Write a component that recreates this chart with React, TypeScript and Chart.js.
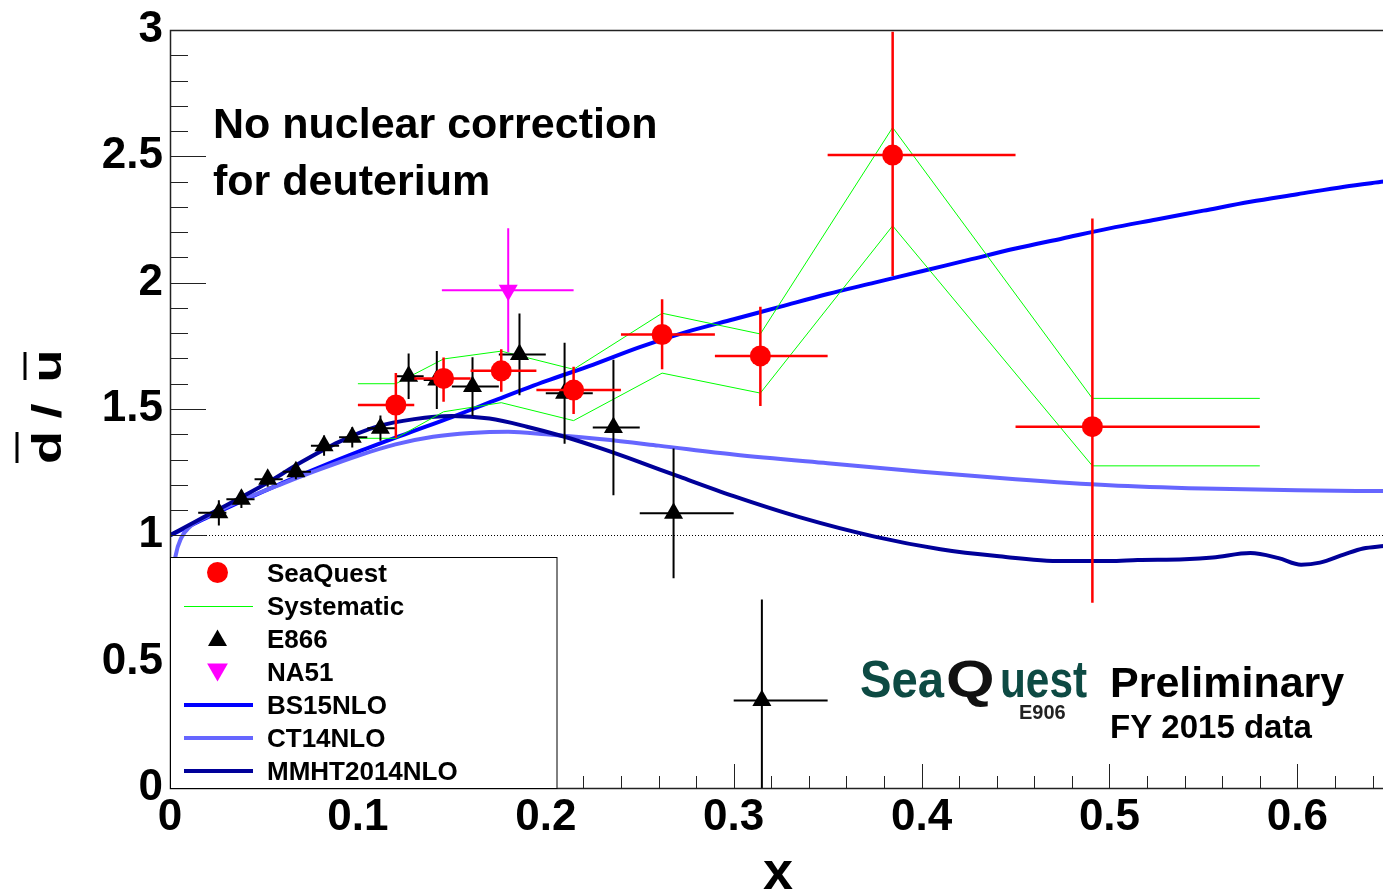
import React, { useEffect, useRef } from "react";
import { Chart, registerables } from "chart.js";

Chart.register(...registerables);

const FONT = "'Liberation Sans', Helvetica, Arial, sans-serif";

// ---------- axes ----------
const xTickValues = [0, 0.1, 0.2, 0.3, 0.4, 0.5, 0.6];
const xTickLabels = ["0", "0.1", "0.2", "0.3", "0.4", "0.5", "0.6"];
const yTickValues = [0, 0.5, 1, 1.5, 2, 2.5, 3];
const yTickLabels = ["0", "0.5", "1", "1.5", "2", "2.5", "3"];
const X_MIN = 0;
const X_MAX = 0.6461;
const Y_MIN = 0;
const Y_MAX = 3;
const X_MINOR_STEP = 0.02;
const Y_MINOR_STEP = 0.1;

// ---------- series names ----------
const NAME_SEAQUEST = "SeaQuest";
const NAME_SYS = "Systematic";
const NAME_E866 = "E866";
const NAME_NA51 = "NA51";
const NAME_BS15 = "BS15NLO";
const NAME_CT14 = "CT14NLO";
const NAME_MMHT = "MMHT2014NLO";

// ---------- SeaQuest ----------
const seaquestX = [0.1202, 0.1456, 0.1763, 0.2148, 0.2619, 0.3142, 0.3846, 0.4909];
const seaquestY = [1.516, 1.621, 1.651, 1.575, 1.795, 1.71, 2.505, 1.43];
const seaquestXLow = [0.1, 0.13, 0.16, 0.195, 0.24, 0.29, 0.35, 0.45];
const seaquestXHigh = [0.13, 0.16, 0.195, 0.24, 0.29, 0.35, 0.45, 0.58];
const seaquestYLow = [1.385, 1.529, 1.568, 1.48, 1.657, 1.512, 2.026, 0.733];
const seaquestYHigh = [1.642, 1.704, 1.736, 1.667, 1.934, 1.905, 2.993, 2.254];

// ---------- Systematic band ----------
const sysX = [0.1, 0.1202, 0.1456, 0.1763, 0.2148, 0.2619, 0.3142, 0.3846, 0.4909, 0.58];
const sysUpper = [1.6, 1.6, 1.698, 1.729, 1.657, 1.879, 1.797, 2.614, 1.542, 1.542];
const sysLower = [1.384, 1.384, 1.489, 1.525, 1.454, 1.642, 1.563, 2.225, 1.275, 1.275];

// ---------- E866 ----------
const e866X = [0.026, 0.038, 0.052, 0.067, 0.082, 0.097, 0.112, 0.127, 0.142, 0.161, 0.186, 0.21, 0.236, 0.268, 0.315];
const e866Y = [1.089, 1.143, 1.222, 1.252, 1.355, 1.388, 1.424, 1.63, 1.615, 1.589, 1.716, 1.562, 1.427, 1.087, 0.346];
const e866YErr = [0.05, 0.035, 0.03, 0.03, 0.04, 0.04, 0.05, 0.09, 0.115, 0.116, 0.162, 0.2, 0.268, 0.257, 0.4];
const e866XLow = [0.015, 0.03, 0.045, 0.06, 0.075, 0.09, 0.105, 0.12, 0.135, 0.15, 0.175, 0.2, 0.225, 0.25, 0.3];
const e866XHigh = [0.03, 0.045, 0.06, 0.075, 0.09, 0.105, 0.12, 0.135, 0.15, 0.175, 0.2, 0.225, 0.25, 0.3, 0.35];

// ---------- NA51 ----------
const na51X = [0.18];
const na51Y = [1.97];
const na51YErr = [0.245];
const na51XLow = [0.1447];
const na51XHigh = [0.2148];

// ---------- theory curves ----------
const bs15X = [0, 0.01, 0.025, 0.05, 0.075, 0.1, 0.125, 0.15, 0.175, 0.2, 0.225, 0.25, 0.275, 0.3, 0.325, 0.35, 0.375, 0.4, 0.425, 0.45, 0.475, 0.5, 0.525, 0.55, 0.575, 0.6, 0.625, 0.6461];
const bs15Y = [1.0, 1.035, 1.09, 1.175, 1.255, 1.33, 1.4, 1.468, 1.54, 1.61, 1.675, 1.745, 1.805, 1.855, 1.905, 1.955, 2.0, 2.045, 2.09, 2.135, 2.175, 2.215, 2.25, 2.285, 2.32, 2.35, 2.38, 2.4];

const ct14X = [0, 0.001, 0.003, 0.006, 0.01, 0.02, 0.04, 0.06, 0.08, 0.1, 0.12, 0.14, 0.16, 0.18, 0.2, 0.23, 0.26, 0.3, 0.35, 0.4, 0.45, 0.5, 0.55, 0.6, 0.6461];
const ct14Y = [0.6, 0.8, 0.92, 0.99, 1.03, 1.075, 1.145, 1.205, 1.262, 1.315, 1.36, 1.39, 1.405, 1.41, 1.4, 1.38, 1.355, 1.32, 1.285, 1.252, 1.222, 1.198, 1.185, 1.178, 1.175];

const mmhtX = [0, 0.02, 0.05, 0.07, 0.09, 0.11, 0.13, 0.15, 0.17, 0.19, 0.21, 0.229, 0.25, 0.27, 0.3, 0.335, 0.375, 0.41, 0.44, 0.475, 0.5, 0.515, 0.54, 0.555, 0.575, 0.59, 0.602, 0.612, 0.625, 0.635, 0.6461];
const mmhtY = [1.0, 1.08, 1.2, 1.29, 1.37, 1.43, 1.46, 1.472, 1.462, 1.43, 1.39, 1.345, 1.29, 1.235, 1.155, 1.072, 0.995, 0.945, 0.918, 0.898, 0.898, 0.902, 0.905, 0.912, 0.93, 0.91, 0.884, 0.892, 0.925, 0.948, 0.958];

// ---------- colours ----------
const RED = "#ff0000";
const GREEN = "#00ff00";
const BLACK = "#000000";
const MAGENTA = "#ff00ff";
const BS15_COLOR = "#0000ff";
const CT14_COLOR = "#6666ff";
const MMHT_COLOR = "#000099";
const LOGO_TEAL = "#0d4a43";

const pts = (xs: number[], ys: number[]) => xs.map((x, i) => ({ x, y: ys[i] }));

type ErrorBars = {
  xLow: number[];
  xHigh: number[];
  yLow: number[];
  yHigh: number[];
  color: string;
  width: number;
};

const legendEntries = [
  { label: NAME_SEAQUEST, kind: "circle", color: RED, width: 0 },
  { label: NAME_SYS, kind: "line", color: GREEN, width: 1 },
  { label: NAME_E866, kind: "tri", color: BLACK, width: 0 },
  { label: NAME_NA51, kind: "triDown", color: MAGENTA, width: 0 },
  { label: NAME_BS15, kind: "line", color: BS15_COLOR, width: 4 },
  { label: NAME_CT14, kind: "line", color: CT14_COLOR, width: 4 },
  { label: NAME_MMHT, kind: "line", color: MMHT_COLOR, width: 4 },
];

function drawTriangle(ctx: CanvasRenderingContext2D, x: number, y: number, r: number, down: boolean) {
  const s = down ? -1 : 1;
  ctx.beginPath();
  ctx.moveTo(x, y - s * r);
  ctx.lineTo(x + 0.866 * r, y + s * r * 0.5);
  ctx.lineTo(x - 0.866 * r, y + s * r * 0.5);
  ctx.closePath();
  ctx.fill();
}

const rootPlugin = {
  id: "rootDecor",
  beforeDatasetsDraw(chart: any) {
    const { ctx, chartArea, scales } = chart;
    const py = Math.round(scales.y.getPixelForValue(1)) + 0.5;
    ctx.save();
    ctx.strokeStyle = "#000";
    ctx.lineWidth = 1;
    ctx.setLineDash([1, 2]);
    ctx.beginPath();
    ctx.moveTo(chartArea.left, py);
    ctx.lineTo(chartArea.right, py);
    ctx.stroke();
    ctx.restore();
  },
  beforeDatasetDraw(chart: any, args: any) {
    const ds = chart.data.datasets[args.index];
    const eb: ErrorBars | undefined = ds.errorBars;
    if (!eb) return;
    const { ctx, chartArea, scales } = chart;
    const xs = scales.x;
    const ys = scales.y;
    ctx.save();
    ctx.beginPath();
    ctx.rect(chartArea.left, chartArea.top, chartArea.right - chartArea.left, chartArea.bottom - chartArea.top);
    ctx.clip();
    ctx.strokeStyle = eb.color;
    ctx.lineWidth = eb.width;
    ds.data.forEach((p: any, i: number) => {
      const px = xs.getPixelForValue(p.x);
      const py = ys.getPixelForValue(p.y);
      ctx.beginPath();
      ctx.moveTo(xs.getPixelForValue(eb.xLow[i]), py);
      ctx.lineTo(xs.getPixelForValue(eb.xHigh[i]), py);
      ctx.moveTo(px, ys.getPixelForValue(eb.yLow[i]));
      ctx.lineTo(px, ys.getPixelForValue(eb.yHigh[i]));
      ctx.stroke();
    });
    ctx.restore();
  },
  afterDatasetsDraw(chart: any) {
    const { ctx, chartArea, scales } = chart;
    const { left, right, top, bottom } = chartArea;
    const xs = scales.x;
    const ys = scales.y;
    ctx.save();
    ctx.strokeStyle = "#222";
    ctx.lineWidth = 1;
    ctx.beginPath();
    const nY = Math.round((Y_MAX - Y_MIN) / Y_MINOR_STEP);
    for (let k = 1; k < nY; k++) {
      const v = Y_MIN + k * Y_MINOR_STEP;
      const py = Math.round(ys.getPixelForValue(v)) + 0.5;
      const major = k % 5 === 0;
      ctx.moveTo(left, py);
      ctx.lineTo(left + (major ? 36 : 18), py);
    }
    const nX = Math.floor((X_MAX - X_MIN) / X_MINOR_STEP + 1e-6);
    for (let k = 1; k <= nX; k++) {
      const v = X_MIN + k * X_MINOR_STEP;
      const px = Math.round(xs.getPixelForValue(v)) + 0.5;
      const major = k % 5 === 0;
      ctx.moveTo(px, bottom);
      ctx.lineTo(px, bottom - (major ? 24 : 12));
    }
    ctx.stroke();
    ctx.strokeStyle = "#222";
    ctx.lineWidth = 1.5;
    ctx.beginPath();
    ctx.moveTo(right, top + 0.5);
    ctx.lineTo(left + 0.5, top + 0.5);
    ctx.lineTo(left + 0.5, bottom + 0.5);
    ctx.lineTo(right, bottom + 0.5);
    ctx.stroke();
    ctx.restore();
  },
  afterDraw(chart: any) {
    const { ctx } = chart;
    ctx.save();
    // ----- legend -----
    const L = 170, T = 557, R = 557.5, B = 788;
    ctx.fillStyle = "#fff";
    ctx.fillRect(L, T, R - L, B - T);
    ctx.strokeStyle = "#000";
    ctx.lineWidth = 1;
    ctx.strokeRect(L + 0.5, T + 0.5, R - L - 1, B - T);
    legendEntries.forEach((e, i) => {
      const cy = 572.5 + i * 33;
      const cx = 217.5;
      ctx.fillStyle = e.color;
      ctx.strokeStyle = e.color;
      if (e.kind === "circle") {
        ctx.beginPath();
        ctx.arc(cx, cy, 10.5, 0, Math.PI * 2);
        ctx.fill();
      } else if (e.kind === "tri") {
        drawTriangle(ctx, cx, cy + 2, 11, false);
      } else if (e.kind === "triDown") {
        drawTriangle(ctx, cx, cy - 2, 12, true);
      } else {
        ctx.lineWidth = e.width;
        const ly = e.width % 2 === 1 ? Math.round(cy) + 0.5 : Math.round(cy);
        ctx.beginPath();
        ctx.moveTo(184, ly);
        ctx.lineTo(253, ly);
        ctx.stroke();
      }
      ctx.fillStyle = "#000";
      ctx.font = `bold 26px ${FONT}`;
      ctx.textAlign = "left";
      ctx.textBaseline = "alphabetic";
      ctx.fillText(e.label, 267, cy + 9.3);
    });

    // ----- annotations -----
    ctx.fillStyle = "#000";
    ctx.textAlign = "left";
    ctx.textBaseline = "alphabetic";
    ctx.font = `bold 43px ${FONT}`;
    ctx.fillText("No nuclear correction", 213, 138);
    ctx.fillText("for deuterium", 213, 195);

    // x axis title
    ctx.textAlign = "center";
    ctx.font = `bold 54px ${FONT}`;
    ctx.fillText("x", 778, 889);

    // y axis title: d-bar / u-bar (rotated)
    const glyph = (ch: string, cy: number) => {
      ctx.save();
      ctx.translate(61, cy);
      ctx.rotate(-Math.PI / 2);
      ctx.scale(1.35, 1);
      ctx.font = `bold 40px ${FONT}`;
      ctx.textAlign = "center";
      ctx.textBaseline = "alphabetic";
      ctx.fillText(ch, 0, 0);
      ctx.restore();
    };
    glyph("d", 447.5);
    glyph("/", 411);
    glyph("u", 366);
    ctx.fillRect(15.5, 432, 3, 31);
    ctx.fillRect(23.5, 352, 3, 28);

    // SeaQuest logo
    ctx.textAlign = "left";
    ctx.font = `bold 52px ${FONT}`;
    ctx.fillStyle = LOGO_TEAL;
    ctx.fillText("Sea", 860, 697, 84);
    ctx.fillText("uest", 1000, 697, 87);
    ctx.save();
    ctx.translate(946, 697);
    ctx.scale(1.2, 1);
    ctx.fillStyle = "#111";
    ctx.fillText("Q", 0, 0);
    ctx.restore();
    ctx.font = `bold 20px ${FONT}`;
    ctx.fillStyle = "#222";
    ctx.fillText("E906", 1019, 719, 48);

    ctx.fillStyle = "#000";
    ctx.font = `bold 43px ${FONT}`;
    ctx.fillText("Preliminary", 1110, 697);
    ctx.font = `bold 33px ${FONT}`;
    ctx.fillText("FY 2015 data", 1110, 738);
    ctx.restore();
  },
};

const CANVAS_W = 1395;
const CANVAS_H = 894;

export default function App() {
  const ref = useRef<HTMLCanvasElement>(null);

  useEffect(() => {
    const canvas = ref.current;
    if (!canvas) return;

    const curve = (label: string, xs: number[], ys: number[], color: string, order: number) => ({
      label,
      data: pts(xs, ys),
      showLine: true,
      borderColor: color,
      backgroundColor: color,
      borderWidth: 4,
      pointRadius: 0,
      cubicInterpolationMode: "monotone",
      order,
    });

    const chart = new Chart(canvas, {
      type: "scatter",
      data: {
        datasets: [
          curve(NAME_BS15, bs15X, bs15Y, BS15_COLOR, 13),
          curve(NAME_CT14, ct14X, ct14Y, CT14_COLOR, 12),
          curve(NAME_MMHT, mmhtX, mmhtY, MMHT_COLOR, 11),
          {
            label: NAME_SYS,
            data: pts(sysX, sysUpper),
            showLine: true,
            borderColor: GREEN,
            borderWidth: 1,
            pointRadius: 0,
            tension: 0,
            order: 9,
          },
          {
            label: NAME_SYS + " low",
            data: pts(sysX, sysLower),
            showLine: true,
            borderColor: GREEN,
            borderWidth: 1,
            pointRadius: 0,
            tension: 0,
            order: 9,
          },
          {
            label: NAME_E866,
            data: pts(e866X, e866Y),
            pointStyle: "triangle",
            pointRadius: 11,
            pointBackgroundColor: BLACK,
            pointBorderColor: BLACK,
            pointBorderWidth: 0,
            order: 7,
            errorBars: {
              xLow: e866XLow,
              xHigh: e866XHigh,
              yLow: e866Y.map((v, i) => v - e866YErr[i]),
              yHigh: e866Y.map((v, i) => v + e866YErr[i]),
              color: BLACK,
              width: 2,
            },
          },
          {
            label: NAME_NA51,
            data: pts(na51X, na51Y),
            pointStyle: "triangle",
            rotation: 180,
            pointRadius: 11,
            pointBackgroundColor: MAGENTA,
            pointBorderColor: MAGENTA,
            pointBorderWidth: 0,
            order: 6,
            errorBars: {
              xLow: na51XLow,
              xHigh: na51XHigh,
              yLow: na51Y.map((v, i) => v - na51YErr[i]),
              yHigh: na51Y.map((v, i) => v + na51YErr[i]),
              color: MAGENTA,
              width: 2,
            },
          },
          {
            label: NAME_SEAQUEST,
            data: pts(seaquestX, seaquestY),
            pointStyle: "circle",
            pointRadius: 10.5,
            pointBackgroundColor: RED,
            pointBorderColor: RED,
            pointBorderWidth: 0,
            order: 5,
            errorBars: {
              xLow: seaquestXLow,
              xHigh: seaquestXHigh,
              yLow: seaquestYLow,
              yHigh: seaquestYHigh,
              color: RED,
              width: 2.5,
            },
          },
        ] as any,
      },
      options: {
        responsive: false,
        animation: false,
        events: [],
        layout: { padding: { left: 0, right: 0, top: 30, bottom: 0 } },
        plugins: {
          legend: { display: false },
          tooltip: { enabled: false },
          title: { display: false },
        },
        scales: {
          x: {
            type: "linear",
            min: X_MIN,
            max: X_MAX,
            grid: { display: false, drawTicks: false },
            border: { display: false },
            afterBuildTicks: (scale: any) => {
              scale.ticks = xTickValues.map((v) => ({ value: v }));
            },
            afterFit: (scale: any) => {
              scale.height = 106;
            },
            ticks: {
              autoSkip: false,
              maxRotation: 0,
              minRotation: 0,
              includeBounds: false,
              padding: 8,
              color: "#000",
              font: { family: FONT, size: 44, weight: "bold", lineHeight: 1 },
              callback: (v: any) => {
                const idx = xTickValues.findIndex((t) => Math.abs(t - v) < 1e-9);
                return idx >= 0 ? xTickLabels[idx] : "";
              },
            },
          },
          y: {
            type: "linear",
            min: Y_MIN,
            max: Y_MAX,
            grid: { display: false, drawTicks: false },
            border: { display: false },
            afterBuildTicks: (scale: any) => {
              scale.ticks = yTickValues.map((v) => ({ value: v }));
            },
            afterFit: (scale: any) => {
              scale.width = 170;
            },
            ticks: {
              autoSkip: false,
              includeBounds: false,
              padding: 7,
              color: "#000",
              font: { family: FONT, size: 44, weight: "bold", lineHeight: 1 },
              callback: (v: any) => {
                const idx = yTickValues.findIndex((t) => Math.abs(t - v) < 1e-9);
                return idx >= 0 ? yTickLabels[idx] : "";
              },
            },
          },
        },
      } as any,
      plugins: [rootPlugin as any],
    });

    return () => chart.destroy();
  }, []);

  return (
    <div
      style={{
        position: "fixed",
        left: 0,
        top: 0,
        width: 1383,
        height: 894,
        overflow: "hidden",
        background: "#fff",
      }}
    >
      <canvas
        ref={ref}
        width={CANVAS_W}
        height={CANVAS_H}
        style={{ display: "block", width: CANVAS_W, height: CANVAS_H }}
      />
    </div>
  );
}
